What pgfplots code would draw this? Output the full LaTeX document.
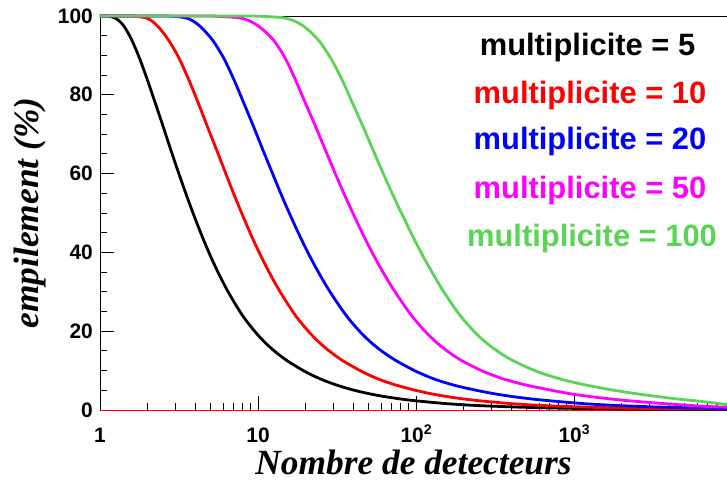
\documentclass[border=0pt]{standalone}
\usepackage{fontspec}
\setmainfont{Liberation Sans}
\newfontfamily\timesf{Liberation Serif}
\usepackage{pgfplots}
\pgfplotsset{compat=1.18}
\definecolor{rootgreen}{RGB}{89,212,84}
\definecolor{rootmag}{RGB}{255,0,255}
\begin{document}
\begin{tikzpicture}
\begin{axis}[
 scale only axis, width=627bp, height=394bp,
 xmode=log, log basis x=10, xmin=1, xmax=9290, ymin=0, ymax=100,
 clip=false,
 axis line style={line width=0.9bp},
 xtick={1,10,100,1000},
 xticklabels={1,10,{10\raisebox{0.75ex}{\fontsize{14}{14}\selectfont 2}},{10\raisebox{0.75ex}{\fontsize{14}{14}\selectfont 3}}},
 minor xtick={2,3,4,5,6,7,8,9,20,30,40,50,60,70,80,90,200,300,400,500,600,700,800,900,2000,3000,4000,5000,6000,7000,8000,9000},
 ytick={0,20,40,60,80,100}, yticklabels={0,20,40,60,80,100},
 minor ytick={5,10,15,25,30,35,45,50,55,65,70,75,85,90,95},
 tick align=inside, xtick pos=bottom, ytick pos=left,
 major tick length=14bp, minor tick length=7bp,
 tick style={line width=0.8bp, black},
 ticklabel style={font=\fontsize{21}{21}\selectfont\bfseries, inner sep=0pt},
 xticklabel style={anchor=base, yshift=-32.5bp},
 yticklabel style={xshift=-7bp},
 xlabel={Nombre de detecteurs}, ylabel={empilement (\%)},
 label style={font=\timesf\fontsize{35.5}{35.5}\selectfont\bfseries\itshape, inner sep=0pt},
 xlabel style={at={(axis description cs:0.5,-0.132)}, anchor=center},
 ylabel style={at={(axis description cs:-0.1116,0.5)}, anchor=center},
 every axis plot/.append style={line width=2.8bp, smooth, tension=0.5},
]
\coordinate (sw) at (rel axis cs:0,0);
\coordinate (ne) at (rel axis cs:1,1);
\addplot[red, line width=0.8bp, sharp plot] coordinates {(1,0) (9290,0)};
% multiplicite = 5
\addplot[black] coordinates {
(1,100) (1.122,99.95) (1.259,99.4) (1.413,97.5) (1.585,94.0) (1.778,89.3) (1.995,83.8)
(2.239,77.9) (2.512,71.9) (2.818,65.8) (3.162,59.9) (3.548,54.2) (3.981,48.8) (4.467,43.7)
(5.012,39.0) (5.623,34.7) (6.310,30.8) (7.079,27.3) (7.943,24.1) (8.913,21.4) (10,19.0)
(11.22,16.9) (12.59,15.1) (14.13,13.5) (15.85,12.1) (19.95,9.71) (25.12,7.79) (31.62,6.30)
(39.81,5.10) (50.12,4.16) (63.10,3.41) (79.43,2.81) (100,2.33) (158.5,1.59) (251.2,1.11)
(501.2,0.67) (1000,0.41) (1995,0.27) (3981,0.18) (9290,0.13)};
% multiplicite = 10
\addplot[red] coordinates {
(1,100) (1.318,100) (1.660,99.95) (1.995,99.4) (2.307,97.5) (2.704,94.0) (3.162,89.3)
(3.648,83.8) (4.188,77.9) (4.786,71.9) (5.495,65.8) (6.266,59.9) (7.128,54.2) (8.109,48.8)
(9.204,43.7) (10.45,39.0) (11.86,34.7) (13.43,30.8) (15.21,27.3) (17.18,24.1) (19.41,21.4)
(21.93,19.0) (24.77,16.9) (27.99,15.1) (31.62,13.5) (35.73,12.1) (45.71,9.71) (58.21,7.79)
(75.0,6.30) (96.6,5.10) (123.0,4.16) (156.7,3.41) (199.5,2.81) (254.1,2.33) (407.4,1.59)
(660.7,1.11) (1349,0.67) (2754,0.41) (9290,0.24)};
% multiplicite = 20
\addplot[blue] coordinates {
(1,100) (2.239,100) (2.818,99.95) (3.589,99.4) (4.266,97.5) (5.129,94.0) (6.067,89.3)
(7.047,83.8) (8.128,77.9) (9.376,71.9) (10.79,65.8) (12.39,59.9) (14.19,54.2) (16.26,48.8)
(18.62,43.7) (21.28,39.0) (24.32,34.7) (27.73,30.8) (31.62,27.3) (35.97,24.1) (40.83,21.4)
(46.35,19.0) (52.72,16.9) (59.98,15.1) (68.39,13.5) (77.98,12.1) (101.2,9.71) (131.8,7.79)
(173.8,6.30) (234.4,5.10) (309.0,4.16) (407.4,3.41) (537.0,2.81) (707.9,2.33) (1175,1.59)
(1950,1.11) (3981,0.67) (9290,0.40)};
% multiplicite = 50
\addplot[rootmag] coordinates {
(1,100) (3.981,100) (5.370,99.95) (7.943,99.4) (10.0,97.5) (12.45,94.0) (14.86,89.3)
(17.26,83.8) (19.95,77.9) (23.17,71.9) (26.79,65.8) (30.90,59.9) (35.65,54.2) (41.11,48.8)
(47.32,43.7) (54.33,39.0) (62.37,34.7) (71.45,30.8) (81.66,27.3) (93.11,24.1) (105.9,21.4)
(120.5,19.0) (137.1,16.9) (156.0,15.1) (177.8,13.5) (203.2,12.1) (269.2,9.71) (363.1,7.79)
(501.2,6.30) (699.8,5.10) (933.3,4.16) (1259,3.41) (1698,2.81) (2239,2.33) (3802,1.59)
(6310,1.0) (9290,0.7)};
% multiplicite = 100
\addplot[rootgreen] coordinates {
(1,100) (7.079,100) (10.0,99.95) (15.14,99.4) (19.28,97.5) (23.99,94.0) (28.84,89.3)
(34.04,83.8) (39.63,77.9) (46.24,71.9) (53.70,65.8) (62.23,59.9) (72.11,54.2) (83.56,48.8)
(96.38,43.7) (110.9,39.0) (127.4,34.7) (145.5,30.8) (166.0,27.3) (189.2,24.1) (215.8,21.4)
(245.5,19.0) (281.8,16.9) (323.6,15.1) (371.5,13.5) (431.5,12.1) (588.8,9.71) (831.8,7.79)
(1202,6.30) (1738,5.10) (2455,4.16) (3388,3.41) (4467,2.81) (5888,2.33) (9290,1.4)};
\node[anchor=base, text=black, font=\fontsize{31}{31}\selectfont\bfseries] at (axis description cs:0.7775,0.901) {multiplicite = 5};
\node[anchor=base, text=red, font=\fontsize{31}{31}\selectfont\bfseries] at (axis description cs:0.7815,0.778) {multiplicite = 10};
\node[anchor=base, text=blue, font=\fontsize{31}{31}\selectfont\bfseries] at (axis description cs:0.7815,0.660) {multiplicite = 20};
\node[anchor=base, text=rootmag, font=\fontsize{31}{31}\selectfont\bfseries] at (axis description cs:0.7815,0.537) {multiplicite = 50};
\node[anchor=base, text=rootgreen, font=\fontsize{31}{31}\selectfont\bfseries] at (axis description cs:0.7847,0.4145) {multiplicite = 100};
\end{axis}
\pgfresetboundingbox
\path ([shift={(-100bp,-71bp)}]sw) rectangle ([shift={(0bp,16bp)}]ne);
\end{tikzpicture}
\end{document}
